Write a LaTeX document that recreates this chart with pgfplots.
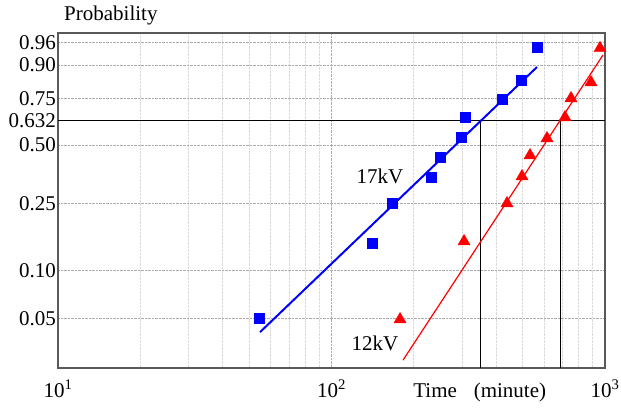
\documentclass[border=0pt]{standalone}
\usepackage{fontspec}
\setmainfont{Liberation Serif}
\usepackage{pgfplots}
\pgfplotsset{compat=1.18}
\begin{document}
\begin{tikzpicture}[font=\fontsize{21}{25}\selectfont]
\path[use as bounding box] (0,0) rectangle (621pt,407pt);
% y axis is the Weibull scale: y = ln(-ln(1-F))
\begin{axis}[
  at={(58pt,39pt)}, anchor=south west,
  scale only axis, width=547pt, height=335pt,
  xmode=log, xmin=10, xmax=1000,
  ymin=-3.708, ymax=1.3127,
  xtick={10,100,1000},
  xticklabels={10\textsuperscript{1},10\textsuperscript{2},10\textsuperscript{3}},
  xticklabel style={anchor=base, yshift=-29pt},
  ytick={-2.9702,-2.2504,-1.2459,-0.3665,0,0.3266,0.8340,1.1690},
  yticklabels={0.05,0.10,0.25,0.50,0.632,0.75,0.90,0.96},
  yticklabel style={inner sep=2pt},
  xmajorgrids, xminorgrids, ymajorgrids,
  major grid style={densely dotted, gray!65, line width=0.8pt},
  minor grid style={densely dotted, gray!30, line width=0.8pt},
  major tick length=0pt, minor tick length=0pt,
  axis line style={black!65, line width=1.5pt},
  xlabel={Time\hspace{0.8em}(minute)},
  xlabel style={at={(rel axis cs:0.771,0)}, anchor=base, yshift=-29pt, inner sep=0pt},
  ylabel={Probability},
  ylabel style={rotate=-90, at={(rel axis cs:0,1)}, anchor=base west, xshift=6pt, yshift=12pt, inner sep=0pt},
]
% reference lines at F = 0.632
\addplot[black, line width=1.2pt] coordinates {(10,0) (1000,0)};
\addplot[black, line width=1pt] coordinates {(352,-3.708) (352,0)};
\addplot[black, line width=1pt] coordinates {(685,-3.708) (685,0)};
% fitted lines
\addplot[blue, line width=2pt] coordinates {(54.8,-3.1701) (564.1,0.8029)};
\addplot[red, line width=1.2pt] coordinates {(182.6,-3.590) (983.3,0.9828)};
% 17kV data
\addplot[only marks, mark=square*, mark size=5pt, blue] coordinates {
(54.3,-2.9602) (140.7,-1.8358) (166.4,-1.2361) (231.1,-0.8463) (249.3,-0.5464)
(297.5,-0.2466) (307.7,0.0533) (420.2,0.3232) (493.1,0.6095) (564.1,1.1043)};
% 12kV data
\addplot[only marks, mark=triangle*, mark size=7pt, red] coordinates {
(178.1,-2.9802) (305.2,-1.8108) (438.3,-1.2411) (497.3,-0.8363) (531.9,-0.5214)
(613.7,-0.2666) (714.1,0.0483) (751.1,0.3331) (888.8,0.5730) (958.7,1.0843)};
\node at (axis cs:150.4,-0.831) {17kV};
\node at (axis cs:144.2,-3.335) {12kV};
\end{axis}
\end{tikzpicture}
\end{document}
